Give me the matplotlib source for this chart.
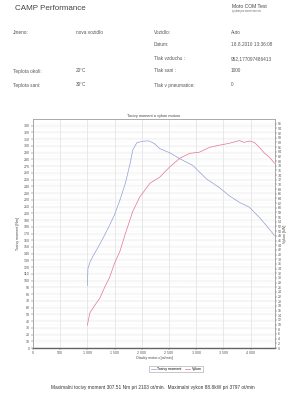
import numpy as np
import matplotlib.pyplot as plt
from matplotlib.ticker import FuncFormatter

plt.rcParams['font.family'] = ['Liberation Sans', 'DejaVu Sans']

# torque curve [rpm, Nm]
torque_rpm = [1000, 1010, 1050, 1100, 1200, 1300, 1400, 1500, 1600, 1700, 1780, 1835, 1910, 2020, 2103,
              2150, 2240, 2330, 2510, 2700, 2940, 3190, 3430, 3610, 3800, 3980, 4160, 4290, 4440]
torque_nm = [93, 118, 128, 136, 150, 165, 181, 198, 220, 245, 272, 294, 305, 307, 307.5,
             307, 303, 296, 290, 281, 271, 251, 238, 226, 216, 209, 194, 182, 167]

# power curve [rpm, kW]
power_rpm = [1000, 1045, 1140, 1230, 1320, 1410, 1500, 1600, 1700, 1835, 1960, 2150, 2330, 2510,
             2700, 2880, 3060, 3250, 3430, 3610, 3797, 3880, 3980, 4070, 4160, 4260, 4350, 4440]
power_kw = [9.8, 15.0, 18.4, 21.4, 26.1, 30.3, 36.3, 41.5, 49.0, 58.5, 64.5, 70.5, 73.1, 77.4,
            81.2, 83.3, 83.8, 85.9, 86.8, 87.6, 88.8, 88.0, 88.6, 88.0, 85.9, 83.3, 81.6, 79.1]

header_left = [("Jmeno:", "nova vozidlo", 33), ("Teplota okoli:", "20°C", 71), ("Teplota sani:", "30°C", 85)]
header_right = [("Vozidlo:", "Auto", 33), ("Datum:", "18.8.2010 13:36:08", 44),
                ("Tlak vzduchu :", "952,177097486413", 59), ("Tlak sani :", "1000", 71),
                ("Tlak v pneumatice:", "0", 85)]

W, H = 287, 400
fig = plt.figure(figsize=(W / 100, H / 100), dpi=100)
fig.patch.set_facecolor('white')

def fx(px):
    return px / W

def fy(py):
    return 1 - py / H

fig.text(fx(15), fy(8), "CAMP Performance", fontsize=5.8, color='#444444', va='center')
fig.text(fx(232), fy(6), "Moto COM Test", fontsize=3.6, color='#444444', va='center')
fig.text(fx(232), fy(11), "system pro mereni motoru", fontsize=1.8, color='#666666', va='center')

for lab, val, y in header_left:
    fig.text(fx(13), fy(y), lab, fontsize=3.4, color='#555555', va='center')
    fig.text(fx(76), fy(y), val, fontsize=3.4, color='#555555', va='center')
for lab, val, y in header_right:
    fig.text(fx(154), fy(y), lab, fontsize=3.4, color='#555555', va='center')
    fig.text(fx(231), fy(y), val, fontsize=3.4, color='#555555', va='center')

left, right, top, bottom = 33, 275, 119, 348
ax = fig.add_axes([fx(left), fy(bottom), (right - left) / W, (bottom - top) / H])
ax2 = ax.twinx()

ax.set_xlim(0, 4450)
ax.set_ylim(0, 340)
ax2.set_ylim(0, 98)

ax.set_xticks(np.arange(0, 4001, 500))
ax.xaxis.set_major_formatter(FuncFormatter(lambda v, p: f"{int(v):,}".replace(",", " ")))
ax.set_yticks(np.arange(0, 331, 10))
ax2.set_yticks(np.arange(0, 97, 2))

for a in (ax, ax2):
    a.tick_params(labelsize=2.6, length=1.2, width=0.3, colors='#555555', pad=1)
    for s in a.spines.values():
        s.set_linewidth(0.4)
        s.set_color('#999999')
ax.spines['bottom'].set_color('#222222')
ax.spines['bottom'].set_linewidth(0.9)

ax.grid(axis='x', color='#d8d8d8', linewidth=0.4)
ax.grid(axis='y', color='#e2e2e2', linewidth=0.35)
ax2.grid(axis='y', color='#e8e8e8', linewidth=0.35, linestyle=':')
ax.set_axisbelow(True)

l1, = ax.plot(torque_rpm, torque_nm, color='#8e9bd4', linewidth=0.5, label='Tocivy moment')
l2, = ax2.plot(power_rpm, power_kw, color='#e27590', linewidth=0.5, label='Vykon')

ax.set_title("Tocivy moment a vykon motoru", fontsize=2.8, color='#444444', pad=1.2)
ax.set_xlabel("Otacky motoru [ot/min]", fontsize=2.6, color='#444444', labelpad=0.5)
ax.set_ylabel("Tocivy moment [Nm]", fontsize=2.6, color='#444444', labelpad=3)
ax2.set_ylabel("Vykon [kW]", fontsize=2.6, color='#444444', labelpad=0.5)

leg = fig.legend(handles=[l1, l2], loc='center', bbox_to_anchor=(fx(176), fy(369)), ncol=2,
                 fontsize=2.6, frameon=True, fancybox=False, handlelength=1.5,
                 borderpad=0.3, columnspacing=0.8, handletextpad=0.4)
leg.get_frame().set_linewidth(0.4)
leg.get_frame().set_edgecolor('#888888')

fig.text(fx(153), fy(387), "Maximalni tocivy moment 307.51 Nm pri 2103 ot/min.  Maximalni vykon 88.8kW pri 3797 ot/min",
         fontsize=3.4, color='#333333', ha='center', va='center')

fig.savefig('out.png', dpi=100)
